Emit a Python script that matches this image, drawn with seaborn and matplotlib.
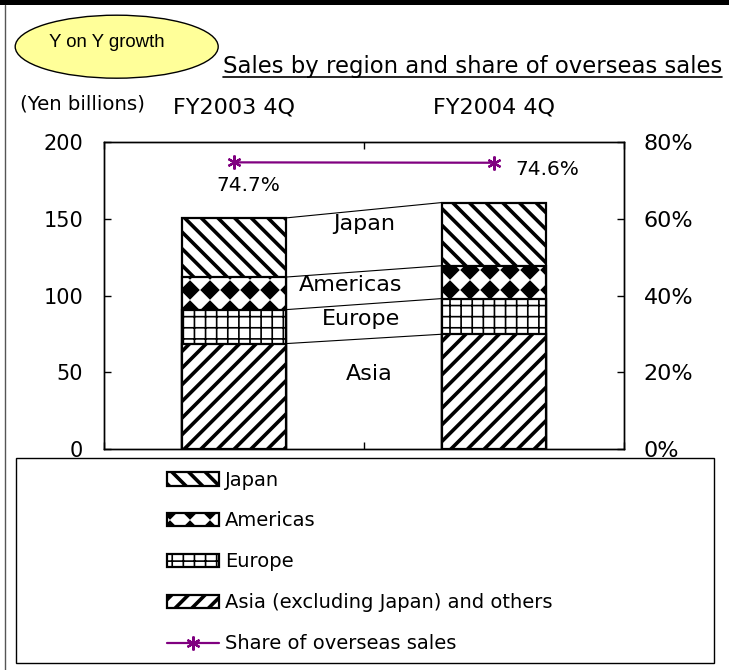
import warnings
warnings.filterwarnings('ignore')
import numpy as np
import matplotlib
matplotlib.use('Agg')
import matplotlib.pyplot as plt
import seaborn as sns
from matplotlib import hatch as mhatch
from matplotlib.path import Path
from matplotlib.patches import Ellipse, Rectangle
from matplotlib.lines import Line2D
from matplotlib.ticker import FuncFormatter, FixedLocator
from matplotlib import font_manager as fm

# ---------------- data ----------------
categories = ['FY2003 4Q', 'FY2004 4Q']
asia = [68.8, 74.9]
europe = [22.1, 23.2]
americas = [21.2, 21.4]
japan = [38.5, 41.1]
overseas_share = [74.7, 74.6]
segment_labels = ['Japan', 'Americas', 'Europe', 'Asia']
legend_labels = ['Japan', 'Americas', 'Europe',
                 'Asia (excluding Japan) and others', 'Share of overseas sales']
left_ticks = [0, 50, 100, 150, 200]
right_ticks = [0, 20, 40, 60, 80]
title_text = 'Sales by region and share of overseas sales'
unit_text = '(Yen billions)'
badge_text = 'Y on Y growth'


# ---------------- custom hatches ----------------
class GridHatch(mhatch.HatchPatternBase):
    def __init__(self, hatch, density):
        self.num_lines = int(hatch.count('g') * 9)
        self.num_vertices = self.num_lines * 4

    def set_vertices_and_codes(self, vertices, codes):
        n = self.num_lines
        steps, step = np.linspace(0.0, 1.0, n, endpoint=False, retstep=True)
        steps = steps + step / 2
        vertices[0:2 * n:2, 0] = 0.0
        vertices[0:2 * n:2, 1] = steps
        vertices[1:2 * n:2, 0] = 1.0
        vertices[1:2 * n:2, 1] = steps
        vertices[2 * n::2, 0] = steps
        vertices[2 * n::2, 1] = 0.0
        vertices[2 * n + 1::2, 0] = steps
        vertices[2 * n + 1::2, 1] = 1.0
        codes[0::2] = Path.MOVETO
        codes[1::2] = Path.LINETO


class DiamondHatch(mhatch.HatchPatternBase):
    def __init__(self, hatch, density):
        self.n = int(hatch.count('d') * 5)
        self.num_vertices = self.n * self.n * 5

    def set_vertices_and_codes(self, vertices, codes):
        n = self.n
        r = 0.44 / n
        base = np.array([[0, r], [-r, 0], [0, -r], [r, 0], [0, r]])
        k = 0
        for i in range(n):
            for j in range(n):
                c = np.array([(i + 0.5) / n, (j + 0.5) / n])
                vertices[k:k + 5] = base + c
                codes[k:k + 5] = [Path.MOVETO, Path.LINETO, Path.LINETO,
                                  Path.LINETO, Path.CLOSEPOLY]
                k += 5


mhatch._hatch_types.append(GridHatch)
mhatch._hatch_types.append(DiamondHatch)


def has_font(name):
    try:
        fm.findfont(fm.FontProperties(family=name), fallback_to_default=False)
        return True
    except Exception:
        return False


sns.set_style('white')
plt.rcParams['font.family'] = ['DejaVu Sans']
plt.rcParams['text.color'] = 'black'
plt.rcParams['axes.edgecolor'] = 'black'
plt.rcParams['xtick.color'] = 'black'
plt.rcParams['ytick.color'] = 'black'
plt.rcParams['axes.labelcolor'] = 'black'

W, H = 729, 670
fig = plt.figure(figsize=(W / 100, H / 100), dpi=100)
fig.patch.set_facecolor('white')

ax_l, ax_r, ax_t, ax_b = 104, 624, 142, 449.3
ax = fig.add_axes([ax_l / W, 1 - ax_b / H, (ax_r - ax_l) / W, (ax_b - ax_t) / H])

# stacked bars (cumulative, drawn tallest first so each lower layer overlays)
cum_asia = np.array(asia)
cum_europe = cum_asia + np.array(europe)
cum_americas = cum_europe + np.array(americas)
cum_japan = cum_americas + np.array(japan)
layers = [(cum_japan, '\\\\', 2.6), (cum_americas, 'd', 1.0),
          (cum_europe, 'g', 1.2), (cum_asia, '//', 2.6)]
bar_w = 0.4
for vals, hp, hlw in layers:
    with plt.rc_context({'hatch.linewidth': hlw, 'hatch.color': 'black'}):
        sns.barplot(x=categories, y=vals, order=categories, color='white',
                    saturation=1, edgecolor='black', linewidth=1.6, hatch=hp,
                    width=bar_w, errorbar=None, ax=ax)
        for p in ax.containers[-1].patches:
            if hasattr(p, 'set_hatch_linewidth'):
                p.set_hatch_linewidth(hlw)

# connector lines between the bars
xpos = np.arange(len(categories))
for bnd in [cum_japan, cum_americas, cum_europe, cum_asia]:
    ax.plot([xpos[0] + bar_w / 2, xpos[1] - bar_w / 2], [bnd[0], bnd[1]],
            color='black', lw=0.8, zorder=1)

# segment labels
seg_pos = [(0.50, 142.6), (0.45, 103.0), (0.49, 80.9), (0.52, 45.1)]
for lab, (sx, sy) in zip(segment_labels, seg_pos):
    ax.text(sx, sy, lab, ha='center', va='baseline', fontsize=16, color='black')

ax.set_ylim(0, 200)
ax.set_yticks(left_ticks)
ax.set_xlim(-0.5, 1.5)
ax.xaxis.set_major_locator(FixedLocator(list(xpos)))
ax.set_xticklabels(categories)
ax.xaxis.set_minor_locator(FixedLocator([-0.5, 0.5, 1.5]))
ax.tick_params(axis='x', which='major', top=True, bottom=False, labeltop=True,
               labelbottom=False, length=0, pad=18, labelsize=16,
               labelcolor='black')
ax.tick_params(axis='x', which='minor', top=True, bottom=True, direction='in',
               length=5, width=1, color='black')
ax.tick_params(axis='y', direction='in', length=5, width=1, labelsize=15, pad=15,
               left=True, color='black', labelcolor='black')
ax.set_xlabel('')
ax.set_ylabel('')
for s in ax.spines.values():
    s.set_visible(True)
    s.set_color('black')
    s.set_linewidth(1.0)

# share of overseas sales line on secondary axis
ax2 = ax.twinx()
sns.lineplot(x=xpos, y=overseas_share, ax=ax2, color='#800080', linewidth=1.6,
             marker=(6, 2, 0), markersize=10, markeredgewidth=1.6,
             markeredgecolor='#800080', markerfacecolor='#800080')
if ax2.get_legend() is not None:
    ax2.get_legend().remove()
ax2.set_ylim(0, 80)
ax2.set_yticks(right_ticks)
ax2.yaxis.set_major_formatter(FuncFormatter(lambda v, p: f'{v:.0f}%'))
ax2.tick_params(axis='y', direction='in', length=5, width=1, labelsize=16, pad=14,
                right=True, color='black', labelcolor='black')
ax2.set_xlabel('')
ax2.set_ylabel('')
ax.set_xlim(-0.5, 1.5)
for s in ax2.spines.values():
    s.set_color('black')
    s.set_linewidth(1.0)

offsets = [((10, -20.4), 'center'), ((15.5, -9.1), 'left')]
for xi, v, (off, ha) in zip(xpos, overseas_share, offsets):
    ax2.annotate(f'{v:.1f}%', (xi, v), xytext=off, textcoords='offset points',
                 ha=ha, va='baseline', fontsize=14.5, color='black')

# ---------------- figure decorations ----------------
fig.add_artist(Rectangle((0, 1 - 5 / H), 1, 5 / H, transform=fig.transFigure,
                         facecolor='black', edgecolor='none', zorder=10))
fig.add_artist(Line2D([4.5 / W, 4.5 / W], [0, 1 - 5 / H], transform=fig.transFigure,
                      color='#555555', lw=1, zorder=10))

fig.add_artist(Ellipse((116.7 / W, 1 - 46.7 / H), 203 / W, 63 / H,
                       transform=fig.transFigure, facecolor='#FFFF99',
                       edgecolor='black', lw=1, zorder=3))
if has_font('Liberation Sans Narrow'):
    badge_font, badge_size = ['Liberation Sans Narrow', 'DejaVu Sans'], 15.8
else:
    badge_font, badge_size = ['Liberation Sans', 'DejaVu Sans'], 13.4
fig.text(106.8 / W, 1 - 46.7 / H, badge_text, ha='center', va='baseline',
         fontsize=badge_size, family=badge_font, zorder=4)

title = fig.text(222.7 / W, 1 - 72.5 / H, title_text, ha='left', va='baseline',
                 fontsize=16.4)
fig.text(20 / W, 1 - 110 / H, unit_text, ha='left', va='baseline', fontsize=14.2)

# legend box
fig.add_artist(Rectangle((15.7 / W, 1 - 662.7 / H), (714.3 - 15.7) / W,
                         (662.7 - 458.3) / H, transform=fig.transFigure,
                         facecolor='white', edgecolor='black', lw=1, zorder=3))
handles = [c.patches[0] for c in ax.containers[:4]] + [ax2.lines[0]]
leg = fig.legend(handles, legend_labels, loc='upper left',
                 bbox_to_anchor=(166.7 / W, 1 - 470.5 / H), frameon=False,
                 fontsize=14, handlelength=2.7, handleheight=0.7,
                 handletextpad=0.3, labelspacing=1.13, borderpad=0,
                 borderaxespad=0)
leg.set_zorder(6)
for lh, hlw in zip(leg.legend_handles[:4], [l[2] for l in layers]):
    if hasattr(lh, 'set_hatch_linewidth'):
        lh.set_hatch_linewidth(hlw)

# underline the title
fig.canvas.draw()
bb = title.get_window_extent()
fig.add_artist(Line2D([bb.x0 / W, bb.x1 / W], [1 - 77 / H, 1 - 77 / H],
                      transform=fig.transFigure, color='black', lw=1.2))

fig.savefig('out.png', dpi=100)
